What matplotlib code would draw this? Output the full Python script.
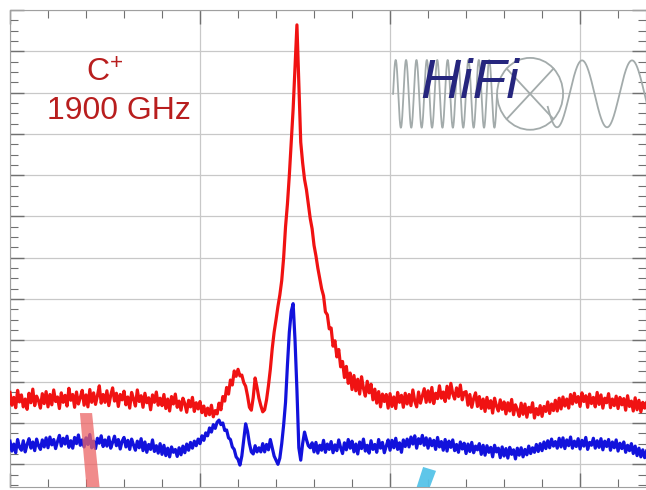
import numpy as np
import matplotlib
matplotlib.use("Agg")
import matplotlib.pyplot as plt
from matplotlib.patches import Ellipse, Polygon
from matplotlib.ticker import MultipleLocator

plt.rcParams['font.family'] = ['Liberation Sans', 'DejaVu Sans']
plt.rcParams['mathtext.fontset'] = 'custom'
plt.rcParams['mathtext.rm'] = 'Liberation Sans'
plt.rcParams['mathtext.default'] = 'regular'

# Step 1: spectrum values (channel step 0.1, arbitrary units)
x_step = 0.1
red_vals = [
    17.4, 14.3, 16.2, 13.7, 17.9, 15.1, 16.8, 13.9, 15.8, 13.3,
    17.2, 14.9, 18.2, 14.2, 16.5, 15.4, 13.6, 17.1, 14.7, 17.6,
    13.9, 16.9, 14.4, 18.0, 15.2, 16.3, 13.5, 17.3, 15.0, 16.7,
    14.1, 18.4, 15.5, 16.9, 13.8, 17.5, 14.6, 16.2, 17.9, 14.3,
    16.8, 13.9, 18.1, 15.0, 17.3, 14.5, 16.6, 19.0, 14.8, 16.9,
    15.0, 17.8, 14.2, 16.7, 18.5, 15.3, 17.2, 14.0, 16.9, 15.6,
    17.7, 14.4, 16.3, 13.6, 17.4, 15.8, 14.1, 18.0, 15.2, 16.6,
    13.8, 17.2, 14.9, 16.1, 13.2, 16.8, 15.0, 17.5, 14.3, 16.0,
    14.2, 16.9, 13.5, 15.8, 12.9, 16.4, 14.6, 17.0, 13.8, 15.3,
    13.1, 16.0, 14.7, 12.6, 15.5, 13.9, 16.2, 12.8, 14.9, 13.4,
    15.2, 12.5, 14.1, 11.8, 13.6, 12.0, 14.3, 11.5, 13.0, 12.2,
    14.8, 13.2, 16.4, 15.3, 18.6, 17.0, 20.4, 19.2, 22.6, 21.3,
    23.0, 21.4, 21.6, 19.8, 18.9, 16.6, 13.8, 13.1, 16.2, 20.9,
    18.6, 16.0, 14.2, 12.7, 13.2, 15.6, 19.0, 23.0, 28.0, 32.0,
    35.0, 38.2, 41.0, 44.5, 50.0, 57.5, 63.0, 70.0, 78.0, 86.0,
    96.0, 106.4, 92.0, 78.0, 73.0, 69.0, 66.5, 63.0, 59.5, 57.0,
    53.0, 50.5, 47.5, 45.0, 42.5, 40.8, 36.9, 36.2, 32.8, 33.0,
    28.6, 29.9, 26.0, 27.8, 23.6, 24.9, 21.0, 23.7, 19.6, 22.1,
    18.1, 21.5, 17.8, 20.6, 17.0, 21.2, 18.4, 16.5, 20.1, 17.3,
    19.4, 15.6, 18.2, 14.8, 17.6, 13.9, 17.0, 15.2, 16.9, 13.6,
    17.1, 14.0, 16.3, 13.5, 17.4, 15.0, 16.7, 13.8, 17.2, 14.6,
    16.9, 14.2, 18.0, 15.3, 13.9, 17.5, 14.8, 16.6, 18.3, 15.0,
    17.8, 15.1, 18.6, 14.7, 17.2, 15.9, 19.0, 16.0, 17.5, 15.2,
    18.9, 16.0, 19.6, 17.1, 15.8, 18.5, 16.4, 19.2, 15.6, 17.4,
    17.6, 14.3, 16.9, 13.8, 15.9, 17.3, 14.0, 16.4, 13.5, 15.8,
    12.8, 16.2, 13.6, 15.4, 12.4, 16.0, 14.1, 12.9, 15.6, 13.3,
    15.1, 12.2, 14.9, 12.9, 15.7, 12.0, 14.4, 13.2, 11.6, 14.8,
    12.1, 14.6, 11.4, 13.8, 12.6, 14.9, 11.2, 13.5, 12.0, 14.2,
    11.6, 14.0, 12.8, 15.1, 12.3, 14.6, 13.0, 15.5, 12.9, 16.0,
    13.4, 16.3, 14.1, 15.8, 13.6, 16.9, 14.6, 17.2, 15.0, 16.4,
    14.0, 17.3, 15.2, 16.6, 13.8, 17.0, 14.7, 16.2, 13.9, 17.4,
    14.5, 16.8, 13.6, 16.0, 14.9, 17.1, 13.7, 15.8, 14.2, 16.5,
    13.5, 16.2, 14.4, 15.9, 13.1, 16.6, 14.0, 15.3, 12.9, 16.1,
    13.2, 15.5, 12.7, 15.0, 13.6, 14.9,
]
blue_vals = [
    5.6, 3.2, 4.9, 2.8, 6.0, 4.1, 3.4, 5.7, 3.0, 4.8,
    6.2, 3.9, 5.4, 3.3, 6.1, 4.5, 3.6, 5.9, 4.2, 6.4,
    4.0, 6.6, 4.7, 6.0, 3.8, 5.5, 7.0, 4.4, 6.3, 4.9,
    6.8, 4.1, 5.7, 3.9, 6.5, 5.0, 7.1, 4.6, 5.9, 4.2,
    6.4, 4.8, 7.2, 4.0, 5.6, 3.8, 6.3, 5.1, 6.9, 4.3,
    5.9, 4.4, 6.6, 3.9, 5.3, 6.8, 4.5, 6.0, 3.7, 5.6,
    6.5, 4.2, 5.8, 3.6, 6.1, 4.7, 3.4, 5.6, 4.0, 6.2,
    3.3, 5.4, 2.9, 4.8, 3.6, 5.9, 3.1, 4.5, 2.7, 5.0,
    2.4, 4.6, 2.1, 3.9, 1.8, 4.2, 2.9, 3.6, 1.9, 4.0,
    2.3, 4.4, 2.8, 4.9, 3.4, 5.3, 3.9, 5.6, 4.5, 6.1,
    5.0, 6.9, 5.8, 7.6, 6.9, 8.8, 7.8, 9.6, 8.7, 10.2,
    10.7, 9.6, 10.0, 8.2, 8.3, 6.4, 6.0, 4.2, 3.6, 1.8,
    1.2, -0.2, 2.0, 6.0, 9.8, 8.0, 5.0, 3.0, 2.5, 4.5,
    3.0, 4.0, 3.0, 5.0, 3.0, 4.8, 3.5, 6.0, 4.0, 2.0,
    1.0, 0.0, 1.5, 5.0, 9.5, 15.0, 24.0, 32.0, 37.0, 38.9,
    30.0, 18.0, 4.0, 1.0, 5.0, 7.8, 6.0, 4.5, 4.0, 5.2,
    3.0, 5.3, 2.7, 4.6, 3.4, 5.8, 2.9, 4.9, 3.6, 5.5,
    2.8, 4.7, 3.3, 5.9, 4.0, 2.6, 5.2, 3.5, 6.0, 3.9,
    5.6, 3.0, 4.9, 2.5, 5.4, 3.8, 6.1, 3.2, 4.6, 2.7,
    5.7, 3.6, 4.8, 2.9, 6.0, 3.9, 5.3, 2.8, 4.4, 5.9,
    3.4, 5.8, 4.0, 6.3, 3.6, 5.2, 2.9, 5.9, 4.3, 6.1,
    4.2, 6.6, 4.9, 6.9, 3.9, 6.2, 5.0, 7.0, 4.6, 6.4,
    3.9, 6.2, 4.5, 5.8, 3.6, 6.5, 4.2, 5.5, 3.4, 6.0,
    3.2, 5.6, 4.1, 5.9, 3.3, 4.8, 2.9, 5.4, 3.7, 5.1,
    2.6, 4.9, 3.1, 5.3, 2.8, 4.4, 3.5, 5.0, 2.4, 4.6,
    2.2, 4.5, 2.9, 4.1, 1.8, 4.6, 3.0, 3.9, 1.6, 4.2,
    2.0, 3.8, 1.5, 4.1, 2.4, 3.5, 1.3, 3.9, 2.2, 4.0,
    1.8, 3.6, 2.3, 4.4, 2.6, 4.0, 2.9, 4.8, 3.1, 5.0,
    3.3, 5.4, 3.8, 5.7, 4.0, 6.1, 4.4, 5.5, 3.9, 6.3,
    4.2, 6.4, 3.8, 5.9, 4.5, 6.6, 3.9, 5.6, 4.3, 6.2,
    3.7, 5.8, 4.4, 6.5, 3.6, 5.3, 4.6, 6.3, 3.9, 5.7,
    4.1, 6.2, 3.5, 5.6, 4.3, 6.0, 3.4, 5.4, 4.0, 5.9,
    3.2, 5.1, 3.8, 5.4, 2.9, 4.6, 3.3, 5.0, 2.6, 4.4,
    2.1, 3.9, 1.8, 3.5, 1.6, 3.2,
]
x_red = np.arange(len(red_vals)) * x_step
x_blue = np.arange(len(blue_vals)) * x_step

# Step 2: annotation bars at the bottom (corners in data units)
pink_bar_x = [3.68, 4.32, 4.74, 4.05]
pink_bar_y = [12.4, 12.4, -6.7, -6.7]
cyan_bar_x = [21.74, 22.42, 22.0, 21.32]
cyan_bar_y = [-0.65, -1.6, -6.7, -6.7]

# Step 3: set up the figure
fig = plt.figure(figsize=(6.46, 4.90), dpi=100)
ax = fig.add_axes([10 / 646, 3 / 490, 636 / 646, 477 / 490])
ax.set_xlim(0, 33.47)
ax.set_ylim(-5.5, 110)

ax.xaxis.set_major_locator(MultipleLocator(10))
ax.xaxis.set_minor_locator(MultipleLocator(2))
ax.yaxis.set_major_locator(MultipleLocator(10))
ax.yaxis.set_minor_locator(MultipleLocator(2.5))
ax.tick_params(which='both', direction='in', top=True, right=True,
               labelbottom=False, labelleft=False, color='#707070')
ax.tick_params(which='major', length=10, width=1.0)
ax.tick_params(which='minor', length=6, width=0.8)
ax.grid(True, which='major', color='#c8c8c8', lw=0.9)
ax.set_axisbelow(True)
for s in ax.spines.values():
    s.set_color('#a0a0a0')

# Step 4: draw the spectra
ax.plot(x_blue, blue_vals, color='#1212dc', lw=2.3, zorder=3)
ax.plot(x_red, red_vals, color='#f01212', lw=2.3, zorder=4)

ax.add_patch(Polygon(list(zip(pink_bar_x, pink_bar_y)), closed=True,
                     facecolor='#ec6464', edgecolor='none', alpha=0.75, zorder=5))
ax.add_patch(Polygon(list(zip(cyan_bar_x, cyan_bar_y)), closed=True,
                     facecolor='#55c3e8', edgecolor='none', alpha=0.95, zorder=5))

# Step 5: labels
ax.text(5.0, 94.7, 'C$^{+}$', color='#b81e1e', fontsize=23, ha='center', va='center', zorder=6)
ax.text(5.74, 85.5, '1900 GHz', color='#b81e1e', fontsize=23, ha='center', va='center', zorder=6)

# Step 6: HiFi logo (waves, mixer circle, text)
logo_c = 89.7
t1 = np.linspace(20.16, 25.63, 600)
ax.plot(t1, logo_c + 8.2 * np.sin(2 * np.pi * (t1 - 20.16) / 0.547), color='#a3abab', lw=1.3, zorder=2)
t2 = np.linspace(28.3, 33.6, 300)
ax.plot(t2, logo_c - 8.1 * np.cos(2 * np.pi * (t2 - 28.79) / 2.63), color='#a3abab', lw=1.3, zorder=2)
ax.add_patch(Ellipse((27.37, logo_c), 3.47, 17.4, facecolor='none', edgecolor='#a3abab', lw=1.3, zorder=2))
ax.plot([27.37 - 1.23, 27.37 + 1.23], [logo_c + 6.1, logo_c - 6.1], color='#a3abab', lw=1.3, zorder=2)
ax.plot([27.37 - 1.23, 27.37 + 1.23], [logo_c - 6.1, logo_c + 6.1], color='#a3abab', lw=1.3, zorder=2)
ax.text(24.2, 92.2, 'HiFi', color='#26267e', fontsize=40, style='italic',
        ha='center', va='center', zorder=6)

plt.savefig('out.png', dpi=100)
